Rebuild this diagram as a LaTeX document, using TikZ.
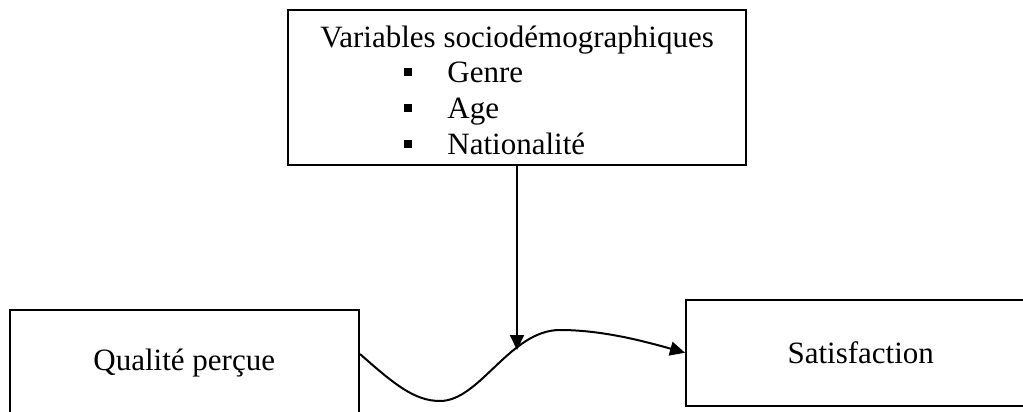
\documentclass[tikz,border=0pt]{standalone}
\usepackage{fontspec}
\setmainfont{Liberation Serif}
\usetikzlibrary{arrows.meta,calc}
\begin{document}
\begin{tikzpicture}[x=0.5pt,y=-0.5pt,
  box/.style={draw,line width=1pt,rectangle,inner sep=0pt,font=\fontsize{15.5}{18}\selectfont},
  txt/.style={font=\fontsize{15.5}{18}\selectfont,inner sep=0pt,anchor=base west},
  bul/.style={fill=black,inner sep=0pt,minimum size=4pt},
  link/.style={line width=1pt,-{Triangle[length=7.5pt,width=7pt]}}]
\useasboundingbox (0,0) rectangle (1023,412);
\clip (0,0) rectangle (1023,412);
% top box
\node[box,minimum width=229pt,minimum height=77.75pt] (T) at (517,87.25) {};
\node[txt] (t0) at (320,47) {Variables sociodémographiques};
\node[bul] (b1) at (408,72) {};
\node[txt] (t1) at (447,82) {Genre};
\node[bul] (b2) at (408,108) {};
\node[txt] (t2) at (447,118) {Age};
\node[bul] (b3) at (408,144) {};
\node[txt] (t3) at (447,154) {Nationalité};
% bottom boxes
\node[box,minimum width=174.75pt,minimum height=52.75pt] (A) at (184.25,362.75) {Qualité perçue};
\node[box,minimum width=174.75pt,minimum height=52.75pt] (B) at (860.75,352.75) {Satisfaction};
% connectors
\coordinate (m) at (517,350);
\draw[link] ($(A.north east)+(0,45)$) .. controls (395,385) and (415,401) .. (440,401)
  .. controls (480,401) and (510,330) .. (560,330)
  .. controls (600,330) and (640,340) .. (B.west);
\draw[link] (T.south) -- (m);
\end{tikzpicture}
\end{document}
